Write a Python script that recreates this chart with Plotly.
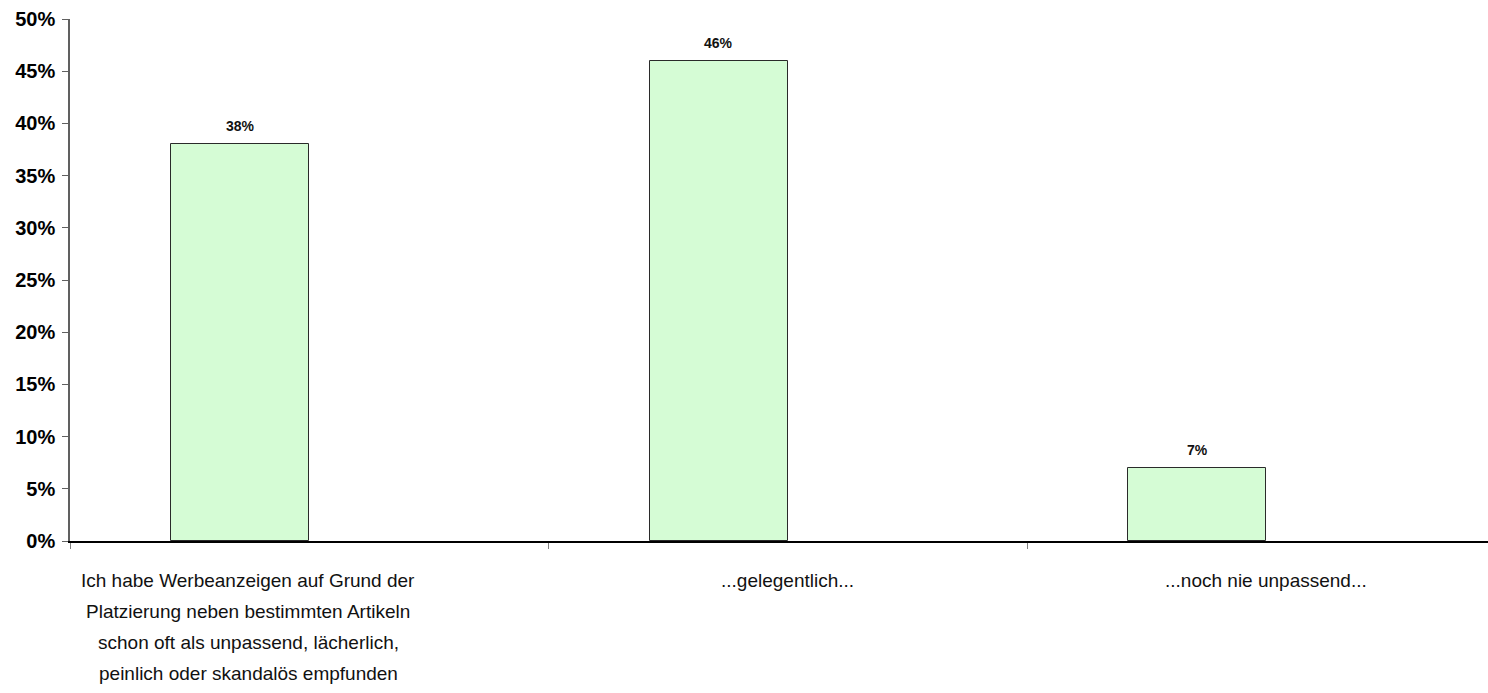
import plotly.graph_objects as go

categories = [
    "Ich habe Werbeanzeigen auf Grund der<br>Platzierung neben bestimmten Artikeln<br>schon oft als unpassend, lächerlich,<br>peinlich oder skandalös empfunden",
    "...gelegentlich...",
    "...noch nie unpassend...",
]
values = [38, 46, 7]
y_ticks = [0, 5, 10, 15, 20, 25, 30, 35, 40, 45, 50]
y_tick_labels = [f"{v}%" for v in y_ticks]

x_idx = list(range(len(categories)))
bar_w = 0.2884

fig = go.Figure()
fig.add_trace(go.Bar(
    x=x_idx, y=values,
    width=bar_w, offset=-bar_w,
    marker=dict(color="#d5fcd5", line=dict(color="#2a2a2a", width=1)),
    hoverinfo="skip",
))

# value labels above bars
for i, v in zip(x_idx, values):
    fig.add_annotation(x=i - bar_w / 2, y=v, xref="x", yref="y", text=f"<b>{v}%</b>",
                       showarrow=False, yanchor="middle", yshift=18,
                       font=dict(family="Liberation Sans, Arial, sans-serif", size=14, color="#111"))

# category labels (one annotation per text line for Excel-like line spacing)
label_font = dict(family="Liberation Sans Narrow, Liberation Sans, Arial, sans-serif", size=19, color="#111")
label_xshift = [-61, 0, 0]
line_gap = 31
for i, (c, s) in enumerate(zip(categories, label_xshift)):
    for k, line in enumerate(c.split("<br>")):
        fig.add_annotation(x=i, y=0, xref="x", yref="y", text=line, showarrow=False,
                           yanchor="middle", xanchor="center", yshift=-39 - k * line_gap, xshift=s,
                           font=label_font, align="center")

fig.update_layout(
    width=1488, height=693,
    margin=dict(l=70, r=0, t=19, b=152),
    plot_bgcolor="white", paper_bgcolor="white",
    showlegend=False,
    bargap=0,
)
fig.update_xaxes(
    range=[-0.5, 2.4634], tickmode="array", tickvals=[-0.5, 0.5, 1.5, 2.5], ticktext=["", "", "", ""],
    ticks="outside", ticklen=6, tickcolor="#808080", tickwidth=1,
    showline=True, linecolor="black", linewidth=1.5, showgrid=False, zeroline=False,
)
fig.update_yaxes(
    range=[0, 50], tickmode="array", tickvals=y_ticks, ticktext=[f"<b>{t}</b>" for t in y_tick_labels],
    ticks="outside", ticklen=6, tickcolor="#606060", tickwidth=1, ticklabelstandoff=3,
    showline=True, linecolor="#606060", linewidth=1.5, showgrid=False, zeroline=False,
    tickfont=dict(family="Liberation Sans, Arial, sans-serif", size=20, color="black"),
)

fig.write_html("out.html", config={"displayModeBar": False},
               post_script="document.body.style.margin='0';")
